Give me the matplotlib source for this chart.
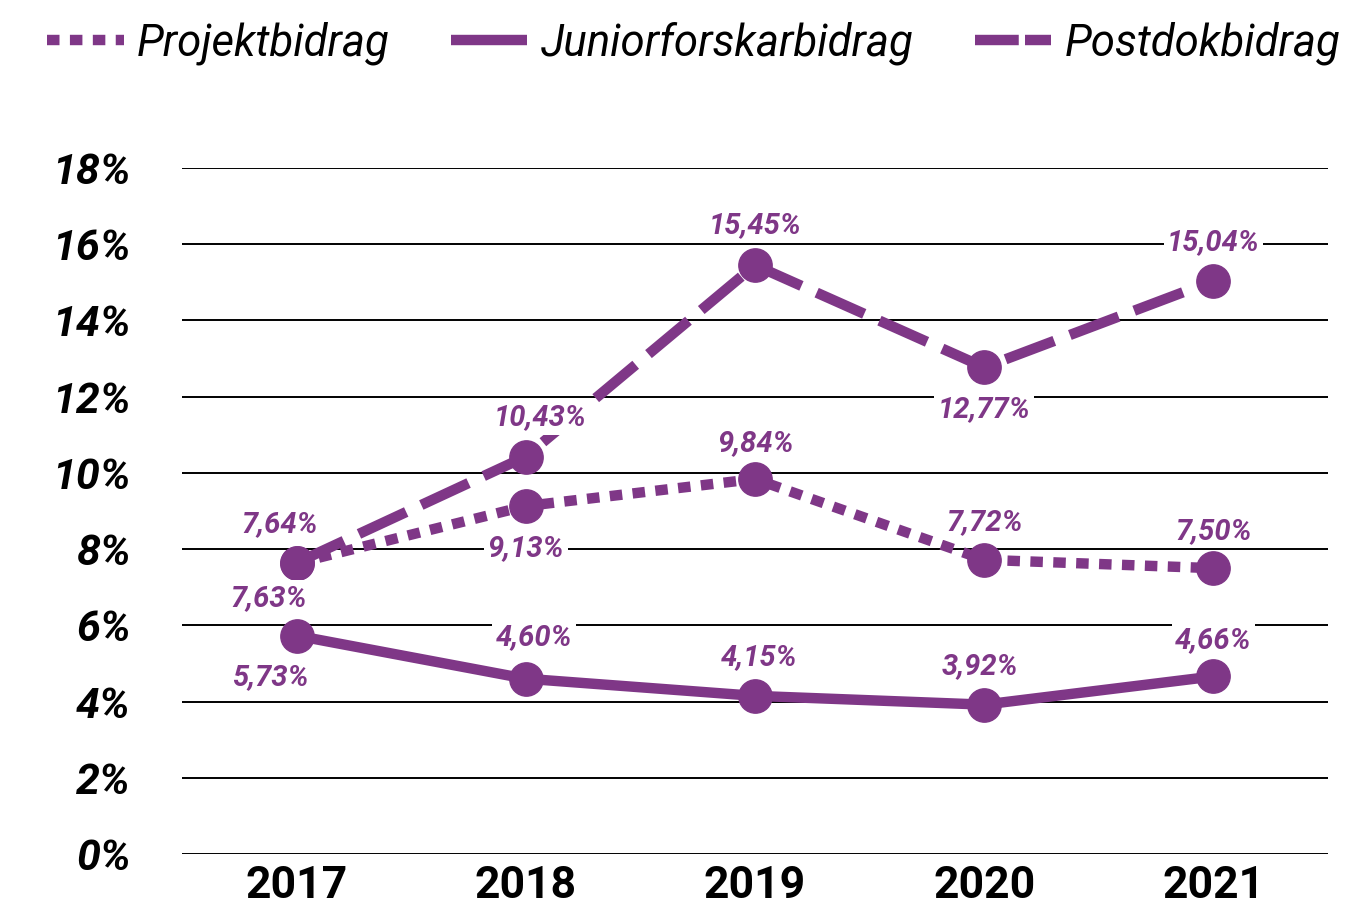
import matplotlib
matplotlib.use("Agg")
import matplotlib.pyplot as plt
from matplotlib.lines import Line2D

years = ["2017", "2018", "2019", "2020", "2021"]
projekt = [7.63, 9.13, 9.84, 7.72, 7.50]
junior = [5.73, 4.60, 4.15, 3.92, 4.66]
postdok = [7.64, 10.43, 15.45, 12.77, 15.04]
y_ticks = [0, 2, 4, 6, 8, 10, 12, 14, 16, 18]

purple = "#7f3787"
fam = ["Roboto", "DejaVu Sans"]

# label offsets (points) per series, per year
off_projekt = [(-20, -25), (0, -30), (0, 26), (0, 27), (0, 27)]
off_junior = [(-19, -30), (6, 30), (3, 28), (-3, 28), (0, 26)]
off_postdok = [(-12, 28), (10, 28), (0, 29), (0, -30), (0, 28)]

fig = plt.figure(figsize=(13.47, 9.14), dpi=100)
ax = fig.add_axes([0.1351, 0.0656, 0.8508, 0.7506])

x = list(range(len(years)))
lw = 7.5
ms = 24

ax.plot(x, junior, color=purple, lw=lw, marker="o", ms=ms, solid_capstyle="butt", zorder=3)
ax.plot(x, projekt, color=purple, lw=lw, marker="o", ms=ms, dashes=(1.2, 1.0),
        dash_capstyle="butt", zorder=3)
ax.plot(x, postdok, color=purple, lw=lw, marker="o", ms=ms, dashes=(5.0, 1.6),
        dash_capstyle="butt", zorder=4)

def fmt(v):
    return f"{v:.2f}".replace(".", ",") + "%"

for vals, offs in [(projekt, off_projekt), (junior, off_junior), (postdok, off_postdok)]:
    for xi, v, o in zip(x, vals, offs):
        ax.annotate(fmt(v), (xi, v), xytext=o, textcoords="offset points",
                    ha="center", va="center", fontsize=21, fontweight="bold",
                    fontstyle="italic", family=fam, color=purple, zorder=5,
                    bbox=dict(boxstyle="square,pad=0.12", fc="white", ec="none"))

ax.set_xlim(-0.5, 4.5)
ax.set_ylim(0, 18)
ax.set_yticks(y_ticks)
ax.set_yticklabels([f"{t}%" for t in y_ticks], fontsize=31, fontweight="bold",
                   fontstyle="italic", family=fam)
ax.set_xticks(x)
ax.set_xticklabels(years, fontsize=32, fontweight="bold", family=fam)
ax.tick_params(axis="y", length=0, pad=37)
ax.tick_params(axis="x", length=0, pad=8)
ax.grid(axis="y", color="black", lw=1.4, zorder=0)
ax.set_axisbelow(True)
for s in ax.spines.values():
    s.set_visible(False)

handles = [
    Line2D([], [], color=purple, lw=lw, dashes=(1.2, 1.0), dash_capstyle="butt"),
    Line2D([], [], color=purple, lw=lw, solid_capstyle="butt"),
    Line2D([], [], color=purple, lw=lw, dashes=(4.2, 0.6), dash_capstyle="butt"),
]
fig.legend(handles, ["Projektbidrag", "Juniorforskarbidrag", "Postdokbidrag"],
           loc="center", bbox_to_anchor=(0.515, 0.953), ncol=3, frameon=False,
           handlelength=1.75, handletextpad=0.3, columnspacing=1.4,
           prop=dict(family=fam, style="italic", size=31.5))

fig.savefig("out.png", dpi=100)
